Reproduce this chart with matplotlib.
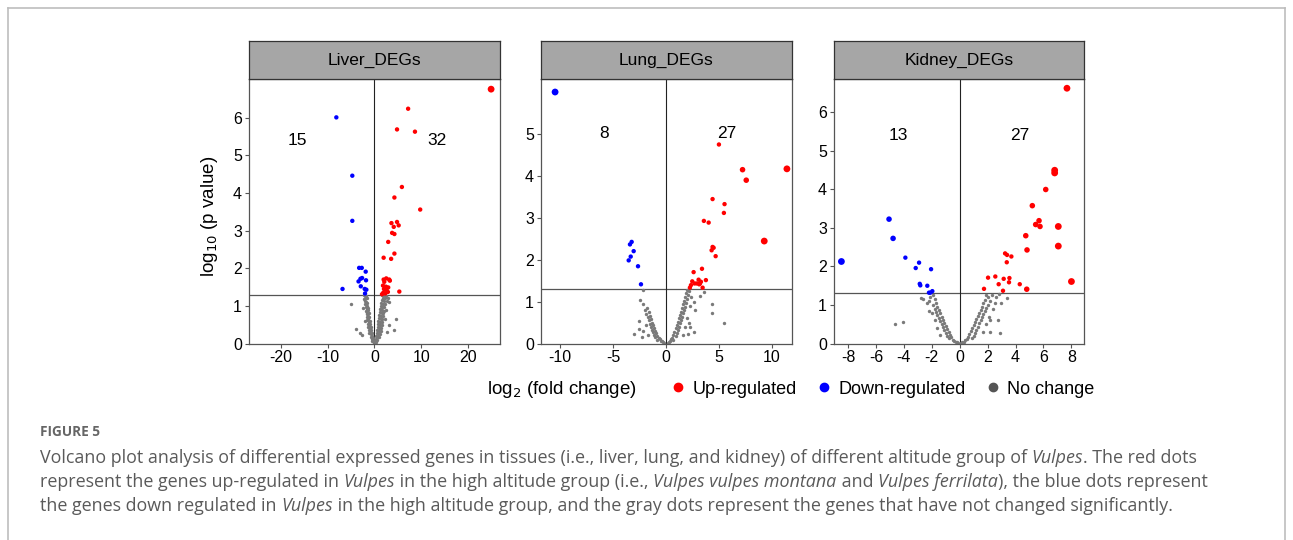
import numpy as np
import matplotlib as mpl
mpl.use('Agg')
import matplotlib.pyplot as plt
from matplotlib.lines import Line2D

## --------------------------------------------------
## data (x = log2 fold change, y = -log10 p)
## --------------------------------------------------
panels = ['Liver_DEGs', 'Lung_DEGs', 'Kidney_DEGs']
n_down = [15, 8, 13]
n_up = [32, 27, 27]

liver_up_x = [24.9, 7.18, 4.81, 8.64, 5.85, 4.25, 9.76, 3.62, 4.81, 5.16, 4.11,
              3.76, 4.25, 2.93, 4.25, 1.95, 3.55, 1.95, 2.51, 3.14, 3.28, 2.09,
              1.81, 2.93, 2.02, 2.58, 5.30, 1.88, 2.30, 2.86, 1.60, 2.44]
liver_up_y = [6.76, 6.24, 5.69, 5.63, 4.16, 3.88, 3.56, 3.20, 3.23, 3.14, 3.10,
              2.94, 2.91, 2.70, 2.39, 2.28, 2.25, 1.70, 1.73, 1.70, 1.67, 1.64,
              1.54, 1.49, 1.45, 1.42, 1.38, 1.35, 1.33, 1.37, 1.31, 1.51]
liver_down_x = [-8.15, -4.74, -4.74, -3.28, -2.72, -1.88, -2.65, -3.41, -1.81,
                -2.93, -2.09, -1.74, -6.83, -2.02, -3.0]
liver_down_y = [6.01, 4.46, 3.26, 2.01, 2.01, 1.91, 1.74, 1.65, 1.68,
                1.52, 1.45, 1.43, 1.45, 1.33, 1.72]
liver_nc_x = [-2.2, -1.9, -2.0, -2.3, -1.7, -2.1, -1.8, -1.5, -2.0, -1.6, -1.9, -1.4,
              -1.7, -1.8, -1.3, -1.5, -1.6, -1.2, -1.4, -1.7, -1.1, -1.3, -1.5, -1.0,
              -1.2, -1.4, -0.9, -1.1, -1.3, -0.8, -1.0, -1.2, -0.7, -0.9, -1.1, -0.6,
              -0.8, -0.5, -0.7, -0.4, -0.6, -0.3, -0.5, -0.2, -0.1, -2.6, -2.0, -2.4,
              -5.1, -3.9, -3.1,
              1.6, 2.0, 2.5, 1.8, 2.3, 2.8, 1.5, 2.0, 2.6, 1.4, 1.8, 2.3, 1.3, 1.7,
              2.1, 1.2, 1.6, 2.0, 2.5, 1.1, 1.5, 1.9, 1.0, 1.4, 1.8, 0.9, 1.3, 1.7,
              2.2, 0.8, 1.2, 1.6, 0.7, 1.1, 1.5, 0.7, 1.0, 1.4, 0.6, 0.9, 1.3, 0.5,
              0.8, 1.2, 0.4, 0.7, 1.0, 0.3, 0.6, 0.2, 0.4, 0.1, 3.0, 2.6, 3.2,
              4.6, 4.1]
liver_nc_y = [1.28, 1.27, 1.22, 1.18, 1.2, 1.12, 1.1, 1.08, 1.05, 1.0, 0.98, 0.95,
              0.92, 0.86, 0.88, 0.82, 0.78, 0.8, 0.72, 0.7, 0.7, 0.65, 0.62, 0.6,
              0.56, 0.52, 0.52, 0.47, 0.44, 0.44, 0.4, 0.36, 0.36, 0.32, 0.28, 0.28,
              0.24, 0.2, 0.18, 0.14, 0.12, 0.08, 0.07, 0.04, 0.02, 0.22, 0.6, 0.95,
              1.06, 0.38, 0.27,
              1.28, 1.28, 1.27, 1.22, 1.2, 1.22, 1.15, 1.14, 1.12, 1.08, 1.06, 1.04,
              1.0, 0.98, 0.96, 0.92, 0.9, 0.87, 0.9, 0.84, 0.82, 0.8, 0.76, 0.74,
              0.72, 0.68, 0.66, 0.64, 0.66, 0.6, 0.58, 0.56, 0.52, 0.5, 0.48, 0.44,
              0.42, 0.4, 0.36, 0.34, 0.32, 0.28, 0.26, 0.24, 0.2, 0.18, 0.16, 0.12,
              0.1, 0.06, 0.04, 0.02, 0.5, 0.3, 1.1,
              0.64, 0.37]

lung_up_x = [5.0, 7.23, 7.58, 11.42, 4.40, 5.53, 5.47, 3.58, 4.03, 9.28, 4.40,
             4.50, 4.31, 4.69, 3.40, 2.61, 3.77, 3.08, 2.48, 2.92, 3.21, 2.70,
             3.46, 2.26, 3.30, 2.36, 3.14]
lung_up_y = [4.74, 4.14, 3.89, 4.16, 3.44, 3.32, 3.11, 2.92, 2.88, 2.44, 2.30,
             2.28, 2.22, 2.08, 1.78, 1.70, 1.51, 1.52, 1.48, 1.43, 1.43, 1.43,
             1.33, 1.33, 1.47, 1.39, 1.41]
lung_down_x = [-10.47, -3.24, -3.40, -3.05, -3.33, -3.52, -2.64, -2.36]
lung_down_y = [5.99, 2.42, 2.36, 2.20, 2.07, 1.98, 1.84, 1.41]
lung_nc_x = [-2.2, -2.45, -2.14, -1.8, -2.0, -1.6, -1.9, -1.5, -1.7, -1.4, -1.6, -1.3,
             -1.5, -1.2, -1.4, -1.1, -1.3, -1.0, -1.2, -0.9, -1.1, -0.8, -1.0, -0.7,
             -0.6, -0.8, -0.5, -0.4, -0.3, -0.2, -2.5, -3.0, -2.3, -2.58, -1.9, -2.2,
             -1.7,
             2.0, 2.2, 1.9, 2.1, 1.8, 2.0, 1.7, 1.9, 1.6, 1.8, 1.5, 1.7, 1.4, 1.6,
             1.3, 1.5, 1.2, 1.4, 1.1, 1.3, 1.0, 1.2, 0.9, 1.1, 0.8, 1.0, 0.7, 0.9,
             0.6, 0.5, 0.7, 0.4, 0.3, 0.2, 2.4, 2.3, 2.6, 2.0, 1.8, 2.2, 1.6, 2.1,
             3.2, 3.6, 2.77, 2.26, 2.6, 4.34, 4.34, 5.44]
lung_nc_y = [1.27, 1.04, 0.94, 0.85, 0.8, 0.75, 0.7, 0.66, 0.62, 0.58, 0.55, 0.5,
             0.47, 0.43, 0.4, 0.36, 0.33, 0.3, 0.27, 0.24, 0.21, 0.19, 0.16, 0.14,
             0.1, 0.09, 0.07, 0.05, 0.03, 0.02, 0.54, 0.23, 0.16, 0.34, 0.45, 0.3,
             0.2,
             1.28, 1.25, 1.2, 1.15, 1.1, 1.06, 1.02, 0.97, 0.93, 0.88, 0.84, 0.8,
             0.76, 0.72, 0.68, 0.64, 0.6, 0.56, 0.52, 0.48, 0.44, 0.4, 0.36, 0.32,
             0.28, 0.24, 0.2, 0.17, 0.14, 0.1, 0.08, 0.06, 0.04, 0.02, 1.1, 0.9,
             0.98, 0.6, 0.4, 0.5, 0.2, 0.22,
             1.13, 1.23, 0.80, 0.40, 0.28, 0.94, 0.72, 0.50]

kidney_up_x = [7.68, 6.80, 6.80, 6.16, 5.20, 5.68, 5.44, 5.75, 7.06, 4.73, 7.06,
               4.82, 3.25, 3.39, 3.70, 3.37, 8.0, 2.03, 2.55, 3.56, 3.15, 3.53,
               2.79, 4.30, 1.74, 4.80, 3.10]
kidney_up_y = [6.63, 4.50, 4.43, 4.00, 3.58, 3.19, 3.09, 3.04, 3.04, 2.80, 2.53,
               2.43, 2.34, 2.30, 2.26, 2.11, 1.61, 1.71, 1.74, 1.70, 1.68, 1.59,
               1.54, 1.54, 1.42, 1.41, 1.37]
kidney_down_x = [-8.47, -5.06, -4.77, -3.89, -2.91, -3.15, -2.05, -2.86, -2.82,
                 -2.32, -2.20, -2.10, -1.96]
kidney_down_y = [2.13, 3.23, 2.73, 2.23, 2.10, 1.96, 1.93, 1.55, 1.51,
                 1.50, 1.32, 1.32, 1.36]
kidney_nc_x = [-1.9, -2.1, -1.8, -2.2, -1.7, -1.9, -1.6, -1.8, -1.5, -1.7, -1.4, -1.6,
               -1.3, -1.5, -1.2, -1.4, -1.1, -1.3, -1.0, -1.2, -0.9, -1.1, -0.8, -1.0,
               -0.7, -0.9, -0.6, -0.8, -0.5, -0.4, -0.3, -0.2, -0.1, -2.74, -2.6,
               -2.33, -2.0, -1.8, -1.6, -2.2, -1.4, -4.6, -4.07,
               1.9, 2.3, 2.0, 1.8, 2.2, 1.7, 2.0, 1.6, 1.9, 1.5, 1.8, 1.4, 1.7, 1.3,
               1.6, 1.2, 1.5, 1.1, 1.4, 1.0, 1.3, 0.9, 1.2, 0.8, 1.1, 0.7, 1.0, 0.6,
               0.9, 0.5, 0.4, 0.3, 0.2, 0.1, 2.5, 2.4, 2.6, 2.1, 1.9, 1.7, 2.2,
               3.36, 2.98, 2.74, 2.14, 2.9, 2.8]
kidney_nc_y = [1.27, 1.22, 1.15, 1.1, 1.05, 1.0, 0.95, 0.9, 0.86, 0.82, 0.78, 0.74,
               0.7, 0.66, 0.62, 0.58, 0.54, 0.5, 0.46, 0.42, 0.38, 0.34, 0.3, 0.26,
               0.22, 0.19, 0.16, 0.13, 0.1, 0.07, 0.05, 0.03, 0.01, 1.18, 1.15,
               1.06, 0.78, 0.6, 0.4, 0.85, 0.22, 0.50, 0.57,
               1.27, 1.25, 1.2, 1.14, 1.1, 1.05, 1.0, 0.96, 0.92, 0.88, 0.84, 0.8,
               0.76, 0.72, 0.68, 0.64, 0.6, 0.56, 0.52, 0.48, 0.44, 0.4, 0.36, 0.32,
               0.28, 0.24, 0.2, 0.17, 0.14, 0.11, 0.08, 0.05, 0.03, 0.01, 1.05, 0.9,
               1.2, 0.7, 0.5, 0.3, 0.6,
               1.18, 1.04, 0.60, 0.30, 0.27, 1.28]

up_x = [liver_up_x, lung_up_x, kidney_up_x]
up_y = [liver_up_y, lung_up_y, kidney_up_y]
down_x = [liver_down_x, lung_down_x, kidney_down_x]
down_y = [liver_down_y, lung_down_y, kidney_down_y]
nc_x = [liver_nc_x, lung_nc_x, kidney_nc_x]
nc_y = [liver_nc_y, lung_nc_y, kidney_nc_y]

## --------------------------------------------------
## layout
## --------------------------------------------------
W, H = 1293, 540
xlims = [(-26.8, 26.8), (-11.8, 11.9), (-9.0, 8.9)]
ylims = [(0, 7.03), (0, 6.3), (0, 6.87)]
xticks = [[-20, -10, 0, 10, 20], [-10, -5, 0, 5, 10], [-8, -6, -4, -2, 0, 2, 4, 6, 8]]
yticks = [range(0, 7), range(0, 6), range(0, 7)]
lefts = [249, 541, 834]
widths = [251, 251, 250]
label_pos = [(-16.5, 13.3), (-5.8, 5.75), (-4.4, 4.3)]
label_y = [5.4, 5.0, 5.4]

RED = '#ff0000'
BLUE = '#0000ff'
GREY = '#7a7a7a'
SPINE = '#555555'

plt.rcParams['font.family'] = ['Liberation Sans', 'DejaVu Sans']
plt.rcParams['axes.unicode_minus'] = False

fig = plt.figure(figsize=(W / 100, H / 100), dpi=100)

def fx(px):
    return px / W

def fy(py):
    return 1 - py / H

ax_bot, ax_top, strip_top = 343.5, 79, 41

def sizes(xs, xmax, base):
    xs = np.abs(np.asarray(xs)) / xmax
    return np.where(xs > 0.75, 24, np.where(xs > 0.5, 16, base))

for i, name in enumerate(panels):
    ax = fig.add_axes([fx(lefts[i]), fy(ax_bot), fx(widths[i]), (ax_bot - ax_top) / H])
    xmax = max(abs(xlims[i][0]), abs(xlims[i][1]))
    ax.scatter(nc_x[i], nc_y[i], s=6, color=GREY, linewidths=0, zorder=2)
    ax.scatter(up_x[i], up_y[i], s=sizes(up_x[i], xmax, 10), color=RED,
               linewidths=0, zorder=3)
    ax.scatter(down_x[i], down_y[i], s=sizes(down_x[i], xmax, 10), color=BLUE,
               linewidths=0, zorder=3)
    ax.axhline(-np.log10(0.05), color='#555555', lw=0.9, zorder=1)
    ax.axvline(0, color='#222222', lw=0.8, zorder=1)
    ax.set_xlim(*xlims[i])
    ax.set_ylim(*ylims[i])
    ax.set_xticks(xticks[i])
    ax.set_yticks(list(yticks[i]))
    ax.tick_params(labelsize=11.5, length=3, width=0.8, color=SPINE, pad=2)
    for sp in ax.spines.values():
        sp.set_color(SPINE)
        sp.set_linewidth(0.9)
    ax.text(label_pos[i][0], label_y[i], str(n_down[i]), fontsize=12.5, ha='center', va='center')
    ax.text(label_pos[i][1], label_y[i], str(n_up[i]), fontsize=12.5, ha='center', va='center')

    strip = fig.add_axes([fx(lefts[i]), fy(ax_top), fx(widths[i]), (ax_top - strip_top) / H])
    strip.set_facecolor('#a6a6a6')
    strip.set_xticks([])
    strip.set_yticks([])
    for sp in strip.spines.values():
        sp.set_color('#333333')
        sp.set_linewidth(0.9)
    strip.text(0.5, 0.5, name, fontsize=12.5, ha='center', va='center',
               transform=strip.transAxes)

fig.text(fx(210), fy(216), r'log$_{10}$ (p value)', rotation=90, fontsize=13.5,
         ha='center', va='center')
fig.text(fx(562), fy(389), r'log$_{2}$ (fold change)', fontsize=13.5,
         ha='center', va='center')

handles = [Line2D([], [], marker='o', ls='', color=c, markersize=6)
           for c in (RED, BLUE, '#555555')]
fig.legend(handles, ['Up-regulated', 'Down-regulated', 'No change'], ncol=3,
           loc='center left', bbox_to_anchor=(fx(671), fy(389)), frameon=False,
           fontsize=13, handlelength=0.8, handletextpad=0.4, columnspacing=1.1,
           borderpad=0, borderaxespad=0)

## --------------------------------------------------
## caption with mixed italics
## --------------------------------------------------
renderer = fig.canvas.get_renderer()
CAP_FONT = 'Open Sans'
CAP_SIZE = 12.9

def advance(txt, style, size):
    t1 = fig.text(0, 0, '|' + txt + '|', fontsize=size, style=style, family=CAP_FONT)
    t2 = fig.text(0, 0, '||', fontsize=size, style=style, family=CAP_FONT)
    w = t1.get_window_extent(renderer).width - t2.get_window_extent(renderer).width
    t1.remove()
    t2.remove()
    return w

def rich_line(x, y, segments, size=CAP_SIZE, color='#5a5a5a'):
    for txt, style in segments:
        fig.text(fx(x), fy(y), txt, fontsize=size, style=style, family=CAP_FONT,
                 color=color, va='center', ha='left')
        x += advance(txt, style, size)

fig.text(fx(40), fy(432), 'FIGURE 5', fontsize=9.8, fontweight='bold',
         family=CAP_FONT, color='#666666', va='center')

caption = [
    [('Volcano plot analysis of differential expressed genes in tissues (i.e., liver, lung, '
      'and kidney) of different altitude group of ', 'normal'), ('Vulpes', 'italic'),
     ('. The red dots', 'normal')],
    [('represent the genes up-regulated in ', 'normal'), ('Vulpes', 'italic'),
     (' in the high altitude group (i.e., ', 'normal'), ('Vulpes vulpes montana', 'italic'),
     (' and ', 'normal'), ('Vulpes ferrilata', 'italic'),
     ('), the blue dots represent', 'normal')],
    [('the genes down regulated in ', 'normal'), ('Vulpes', 'italic'),
     (' in the high altitude group, and the gray dots represent the genes that have '
      'not changed significantly.', 'normal')],
]
for k, line in enumerate(caption):
    rich_line(40, 458 + 24 * k, line)

## frame around the figure
frame = dict(color='#bdbdbd', lw=1.2, transform=fig.transFigure)
fig.add_artist(Line2D([fx(8), fx(8)], [0, fy(8)], **frame))
fig.add_artist(Line2D([fx(8), fx(1285)], [fy(8), fy(8)], **frame))
fig.add_artist(Line2D([fx(1285), fx(1285)], [0, fy(8)], **frame))

fig.savefig('out.png', dpi=100)
